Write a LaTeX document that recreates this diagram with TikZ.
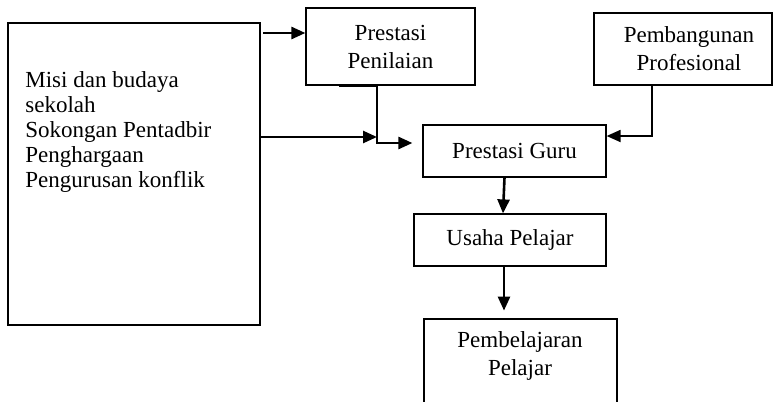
\documentclass[tikz,border=0pt]{standalone}
\usepackage{fontspec}
\setmainfont{Liberation Serif}
\usetikzlibrary{arrows.meta,calc}
\begin{document}
\begin{tikzpicture}[x=0.5pt,y=-0.5pt,
  box/.style={draw,line width=0.6pt,inner sep=0pt,font=\fontsize{11.5}{14}\selectfont,align=center},
  txt/.style={inner sep=0pt,font=\fontsize{11.5}{14}\selectfont,align=center},
  arr/.style={line width=1.3pt,-{Triangle[length=7pt,width=6pt]}},
  arrthin/.style={line width=0.9pt,-{Triangle[length=7pt,width=6pt]}}]
\useasboundingbox (0,0) rectangle (773,402);
\clip (0,0) rectangle (773,402);
% boxes
\node[box,minimum width=126pt,minimum height=151pt] (env) at (134,174) {};
\node[txt,anchor=north west,align=left,font=\fontsize{11.5}{12.5}\selectfont] (envtext) at (25,71)
  {Misi dan budaya\\sekolah\\Sokongan Pentadbir\\Penghargaan\\Pengurusan konflik};
\node[box,minimum width=84.5pt,minimum height=38.5pt] (pp) at (390.5,46.5) {Prestasi\\Penilaian};
\node[box,minimum width=89pt,minimum height=36pt] (pb) at (683,49) {};
\node[txt] (pbtext) at (689,49) {Pembangunan\\Profesional};
\node[box,minimum width=91.5pt,minimum height=26pt] (pg) at (514.5,151) {Prestasi Guru};
\node[box,minimum width=96pt,minimum height=26pt] (up) at (510,240) {Usaha Pelajar};
\node[box,minimum width=96.5pt,minimum height=50pt] (pl) at (520.5,369) {};
\node[txt] (pltext) at (520,356) {Pembelajaran\\Pelajar};
% connectors
\coordinate (a1) at (263,33);
\draw[arr] (a1) -- (a1 -| pp.west);
\coordinate (j) at (377,137);
\draw[arr] (env.east |- j) -- (j);
\draw[line width=1.3pt] ($(pp.south west)+(34,0)$) -- (pp.south west -| j);
\draw[arr] (pp.south west -| j) -- ($(j)+(0,6)$) -- ($(pg.west)+(-10,-8)$);
\draw[arrthin] ($(pb.south)+(-31,0)$) |- ($(pg.east)+(0,-15)$);
\draw[arr] ($(pg.south)+(-10,0)$) -- ($(up.north)+(-7,0)$);
\draw[arr] ($(up.south)+(-6,0)$) -- ++(0,44);
\end{tikzpicture}
\end{document}
